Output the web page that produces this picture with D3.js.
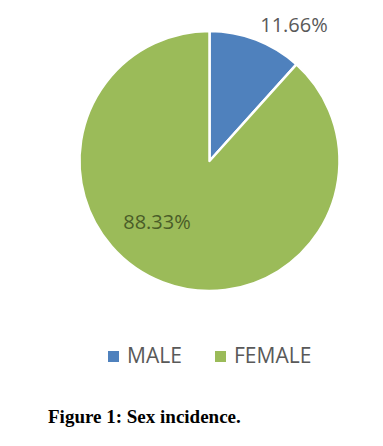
<!DOCTYPE html>
<html><head><meta charset="utf-8">
<script src="https://cdn.jsdelivr.net/npm/d3@7"></script>
<style>body{margin:0;background:#fff}</style>
</head><body>
<svg id="c" width="383" height="446"></svg>
<script>
const categories = ["MALE", "FEMALE"];
const values = [11.66, 88.33];
const labels = ["11.66%", "88.33%"];
const colors = ["#4f81bd", "#9bbb59"];

const svg = d3.select("#c");
const cx = 209.5, cy = 161, r = 130;
const pie = d3.pie().sort(null).value(d => d)(values);
const arc = d3.arc().innerRadius(0).outerRadius(r);
const g = svg.append("g").attr("transform", `translate(${cx},${cy})`);
g.selectAll("path").data(pie).join("path")
  .attr("d", arc).attr("fill", (d, i) => colors[i])
  .attr("stroke", "#fff").attr("stroke-width", 2.5).attr("stroke-linejoin", "round");

// data labels
const labelPos = [[294, 32], [157, 229]];
const labelCol = ["#595959", "#4a5d28"];
svg.selectAll("text.dl").data(labels).join("text").attr("class", "dl")
  .attr("x", (d, i) => labelPos[i][0]).attr("y", (d, i) => labelPos[i][1])
  .attr("text-anchor", "middle").attr("font-family", "Open Sans")
  .attr("font-size", 20).attr("fill", (d, i) => labelCol[i]).text(d => d);

// legend
const legX = [108, 215];
const lg = svg.selectAll("g.lg").data(categories).join("g").attr("class", "lg")
  .attr("transform", (d, i) => `translate(${legX[i]},351)`);
lg.append("rect").attr("width", 11).attr("height", 11).attr("fill", (d, i) => colors[i]);
lg.append("text").attr("x", 19).attr("y", 12).attr("font-family", "Open Sans")
  .attr("font-size", 21).attr("fill", "#595959").text(d => d);

svg.append("text").attr("x", 48).attr("y", 423)
  .attr("font-family", "Liberation Serif").attr("font-weight", "bold")
  .attr("font-size", 19).attr("fill", "#000").text("Figure 1: Sex incidence.");
</script>
</body></html>
